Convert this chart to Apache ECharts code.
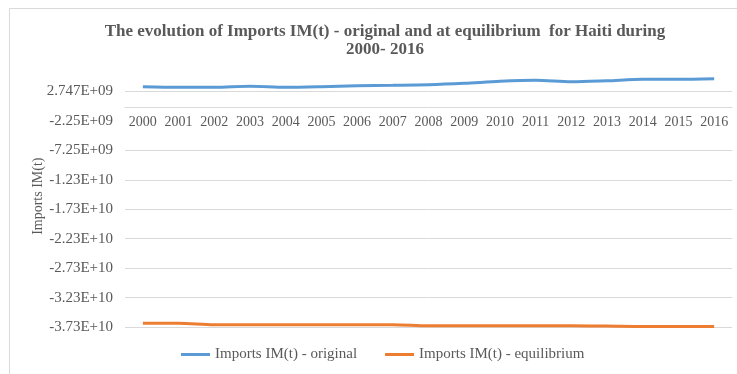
<!DOCTYPE html>
<html>
<head>
<meta charset="utf-8">
<script src="https://cdn.jsdelivr.net/npm/echarts@6/dist/echarts.min.js"></script>
<style>
html,body{margin:0;padding:0;background:#fff;}
#chart{width:737px;height:374px;}
</style>
</head>
<body>
<div id="chart"></div>
<script>
const years = ['2000','2001','2002','2003','2004','2005','2006','2007','2008','2009','2010','2011','2012','2013','2014','2015','2016'];
const importsOriginal = [3.56e9,3.46e9,3.46e9,3.63e9,3.46e9,3.56e9,3.73e9,3.80e9,3.90e9,4.14e9,4.48e9,4.65e9,4.41e9,4.58e9,4.82e9,4.82e9,4.92e9];
const importsEquilibrium = [-3.660e10,-3.660e10,-3.686e10,-3.686e10,-3.686e10,-3.686e10,-3.686e10,-3.686e10,-3.706e10,-3.706e10,-3.706e10,-3.706e10,-3.706e10,-3.710e10,-3.718e10,-3.718e10,-3.718e10];
const yMin = -3.7253e10;
const yInterval = 5e9;
const yMax = 7.2e9;
const yTickLabels = ['-3.73E+10','-3.23E+10','-2.73E+10','-2.23E+10','-1.73E+10','-1.23E+10','-7.25E+09','-2.25E+09','2.747E+09'];
const seriesNames = ['Imports IM(t) - original','Imports IM(t) - equilibrium'];

const tickValues = yTickLabels.map((_, i) => yMin + i * yInterval);
// the gridline hidden behind the category labels row in the original
const gridValues = tickValues.filter((_, i) => yTickLabels[i] !== '-2.25E+09');

const font = 'Liberation Serif';
const grey = '#595959';
const chart = echarts.init(document.getElementById('chart'));
const option = {
  animation: false,
  graphic: [{
    type: 'rect', silent: true,
    shape: {x: 9.5, y: 8.5, width: 740, height: 380},
    style: {fill: 'none', stroke: '#d9d9d9', lineWidth: 1}
  }],
  title: {
    text: 'The evolution of Imports IM(t) - original and at equilibrium  for Haiti during\n2000- 2016',
    left: 380, top: 18, textAlign: 'center',
    textStyle: {fontFamily: font, fontSize: 17, fontWeight: 'bold', color: grey, lineHeight: 18}
  },
  legend: {
    data: seriesNames,
    left: 181, top: 347, padding: 0,
    icon: 'rect', itemWidth: 29, itemHeight: 3, itemGap: 28,
    textStyle: {fontFamily: font, fontSize: 15, color: grey}
  },
  grid: {left: 125, right: 5, top: 91.5 - (yMax - tickValues[8]) / yInterval * 29.4, bottom: 47, containLabel: false},
  xAxis: {
    type: 'category', data: years, boundaryGap: true,
    axisLine: {onZero: false, lineStyle: {color: '#d9d9d9'}},
    axisTick: {show: false},
    axisLabel: {fontFamily: font, fontSize: 14, color: grey, margin: 8, interval: 0}
  },
  yAxis: {
    type: 'value', min: yMin, max: yMax, interval: yInterval,
    name: 'Imports IM(t)', nameLocation: 'middle', nameGap: 80, nameRotate: 90, nameMoveOverlap: false,
    nameTextStyle: {fontFamily: font, fontSize: 14, color: grey},
    axisLine: {show: false}, axisTick: {show: false},
    splitLine: {show: false},
    axisLabel: {
      fontFamily: font, fontSize: 15, color: grey, margin: 12, showMaxLabel: false,
      formatter: v => {
        const i = Math.round((v - yMin) / yInterval);
        return Math.abs(v - tickValues[i]) < 1e6 ? (yTickLabels[i] || '') : '';
      }
    }
  },
  series: [
    {
      type: 'line', name: '__grid', data: [], z: 1, silent: true,
      markLine: {
        silent: true, symbol: ['none', 'none'], z: 1,
        label: {show: false},
        lineStyle: {color: '#d9d9d9', width: 1, type: 'solid'},
        data: gridValues.map(v => ({yAxis: v}))
      }
    },
    {
      type: 'line', name: seriesNames[0], data: importsOriginal,
      showSymbol: false, symbol: 'none', smooth: 0.3, z: 3,
      lineStyle: {color: '#5b9bd5', width: 3}, itemStyle: {color: '#5b9bd5'}
    },
    {
      type: 'line', name: seriesNames[1], data: importsEquilibrium,
      showSymbol: false, symbol: 'none', smooth: 0.3, z: 3,
      lineStyle: {color: '#ed7d31', width: 3}, itemStyle: {color: '#ed7d31'}
    }
  ]
};
chart.setOption(option);
// place the category axis where the value axis crosses zero (as in the original)
const zeroPx = chart.convertToPixel({yAxisIndex: 0}, 0);
const bottomPx = chart.convertToPixel({yAxisIndex: 0}, yMin);
chart.setOption({xAxis: {offset: -(bottomPx - zeroPx)}});
</script>
</body>
</html>
